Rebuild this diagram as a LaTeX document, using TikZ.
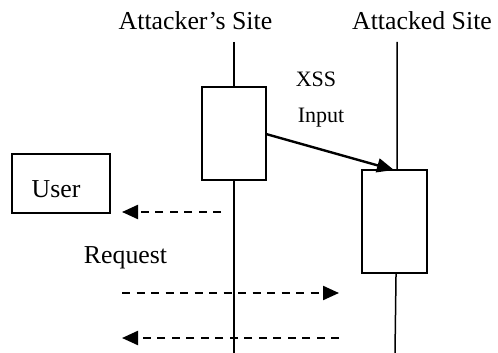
\documentclass[tikz,border=0pt]{standalone}
\usepackage{fontspec}
\setmainfont{Liberation Serif}
\usetikzlibrary{arrows.meta}
\begin{document}
\begin{tikzpicture}[x=1pt,y=-1pt,
  big/.style={font=\fontsize{25.8}{28}\selectfont, inner sep=0pt, anchor=base},
  small/.style={font=\fontsize{22}{25}\selectfont, inner sep=0pt, anchor=base},
  life/.style={line width=1.5pt},
  actbox/.style={draw, line width=2pt, fill=white},
  msg/.style={line width=2.4pt, -{Triangle[length=17pt,width=14pt]}},
  dmsg/.style={line width=2.2pt, dash pattern=on 8pt off 6.5pt, -{Triangle[length=16pt,width=14pt]}}]
\useasboundingbox (0,0) rectangle (498,353);
% headings
\node[big] (h1) at (195.5,30) {Attacker’s Site};
\node[big] (h2) at (422,30) {Attacked Site};
% lifelines
\coordinate (l1t) at (234,42);
\coordinate (l1b) at (234,353);
\coordinate (l2t) at (397,42);
\coordinate (l2b) at (395,353);
\draw[life] (l1t) -- (l1b);
\draw[life] (l2t) -- (397,200) -- (l2b);
% activation boxes
\path[actbox] (202,87) rectangle (266,180);
\path[actbox] (362,170) rectangle (427,273);
\coordinate (a1) at (266,134);
\coordinate (a2) at (394,170);
\draw[msg] (a1) -- (a2);
\node[small] (xss) at (316,87) {XSS};
\node[small] (inp) at (321,122) {Input};
% user
\node[draw, line width=2pt, minimum width=98pt, minimum height=59pt, inner sep=0pt] (user) at (61,183.5) {};
\node[big] (ut) at (56,197) {User};
\node[big] (req) at (125.5,263) {Request};
% dashed messages
\coordinate (d1s) at (221,212); \coordinate (d1e) at (122,212);
\coordinate (d2s) at (122,293); \coordinate (d2e) at (339,293);
\coordinate (d3s) at (339,338); \coordinate (d3e) at (122,338);
\draw[dmsg] (d1s) -- (d1e);
\draw[dmsg] (d2s) -- (d2e);
\draw[dmsg] (d3s) -- (d3e);
\end{tikzpicture}
\end{document}
